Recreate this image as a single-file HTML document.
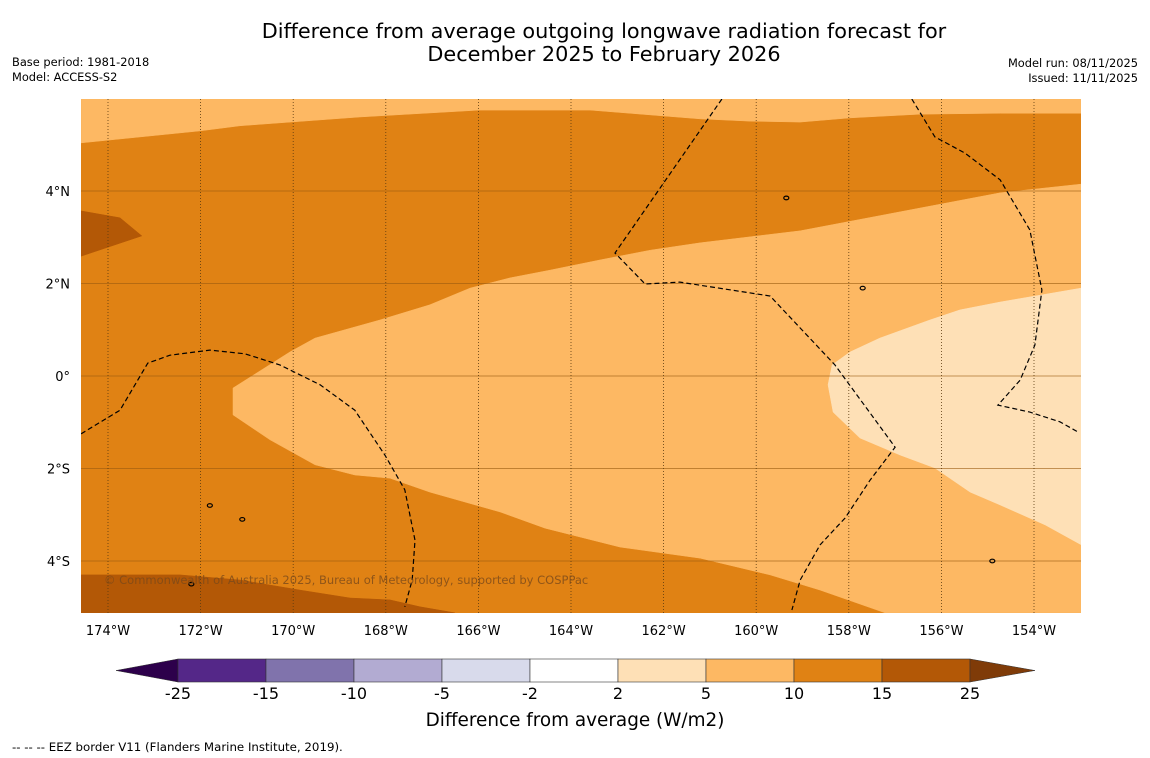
<!DOCTYPE html>
<html><head><meta charset="utf-8">
<style>
body{margin:0;background:#fff;width:1150px;height:758px;overflow:hidden;font-family:"Liberation Sans","DejaVu Sans",sans-serif;}
svg{display:block}
</style></head>
<body>
<svg id="chart" width="1150" height="758" xmlns="http://www.w3.org/2000/svg">
<text x="604" y="38" text-anchor="middle" font-size="20.8" font-family="DejaVu Sans, sans-serif" fill="#000">Difference from average outgoing longwave radiation forecast for</text>
<text x="604" y="61" text-anchor="middle" font-size="20.8" font-family="DejaVu Sans, sans-serif" fill="#000">December 2025 to February 2026</text>
<text x="12" y="66" font-size="11.4" font-family="DejaVu Sans, sans-serif">Base period: 1981-2018</text>
<text x="12" y="81" font-size="11.4" font-family="DejaVu Sans, sans-serif">Model: ACCESS-S2</text>
<text x="1138" y="67" text-anchor="end" font-size="11.4" font-family="DejaVu Sans, sans-serif">Model run: 08/11/2025</text>
<text x="1138" y="82" text-anchor="end" font-size="11.4" font-family="DejaVu Sans, sans-serif">Issued: 11/11/2025</text>
<defs><clipPath id="mapclip"><rect x="81" y="99" width="1000" height="514"/></clipPath></defs>
<g id="map" clip-path="url(#mapclip)"></g>
<g id="axes"></g>
<text x="104" y="584" font-size="11.5" font-family="DejaVu Sans, sans-serif" fill="#7a4a1a" fill-opacity="0.8">© Commonwealth of Australia 2025, Bureau of Meteorology, supported by COSPPac</text>
<g id="cbar"></g>
<text x="575" y="726" text-anchor="middle" font-size="18.4" font-family="DejaVu Sans, sans-serif">Difference from average (W/m2)</text>
<text x="12" y="751" font-size="11.8" font-family="DejaVu Sans, sans-serif">--  --  -- EEZ border V11 (Flanders Marine Institute, 2019).</text>
</svg>
<script>
// Contour polygons [lon, lat]
const topBand=[[-174.58,5.99],[-174.58,5.04],[-172.01,5.30],[-171.15,5.41],[-168.56,5.60],[-165.97,5.75],[-163.59,5.75],[-161.21,5.56],[-160.13,5.51],[-159.05,5.49],[-157.97,5.58],[-156.46,5.66],[-154.73,5.68],[-152.98,5.68],[-152.98,5.99]];
const darkWedge=[[-174.58,3.57],[-173.74,3.42],[-173.27,3.03],[-174.58,2.59]];
const darkBottom=[[-174.58,-4.30],[-172.44,-4.30],[-171.15,-4.41],[-169.85,-4.63],[-168.77,-4.80],[-167.91,-4.84],[-167.26,-4.99],[-166.51,-5.12],[-174.58,-5.12]];
const lightCentral=[[-152.98,4.15],[-154.73,3.96],[-156.89,3.55],[-159.05,3.14],[-161.21,2.88],[-162.29,2.72],[-163.37,2.51],[-164.45,2.29],[-165.32,2.12],[-166.18,1.90],[-167.05,1.54],[-168.13,1.21],[-169.53,0.82],[-170.07,0.52],[-171.30,-0.26],[-171.30,-0.84],[-170.50,-1.38],[-169.53,-1.92],[-168.67,-2.14],[-167.91,-2.21],[-167.05,-2.51],[-165.53,-2.94],[-164.56,-3.29],[-162.94,-3.70],[-161.21,-3.94],[-159.70,-4.30],[-158.62,-4.63],[-157.22,-5.12],[-152.98,-5.12]];
const paleEast=[[-152.98,1.90],[-154.73,1.60],[-155.60,1.43],[-156.25,1.21],[-157.33,0.82],[-157.97,0.52],[-158.36,0.24],[-158.45,-0.19],[-158.34,-0.78],[-157.76,-1.34],[-156.89,-1.71],[-156.14,-1.99],[-155.38,-2.51],[-154.73,-2.79],[-153.76,-3.22],[-152.98,-3.65]];
const eezA=[[-174.58,-1.25],[-173.74,-0.74],[-173.14,0.28],[-172.66,0.45],[-171.80,0.56],[-171.04,0.48],[-170.29,0.24],[-169.42,-0.19],[-168.67,-0.74],[-168.02,-1.71],[-167.59,-2.46],[-167.37,-3.55],[-167.43,-4.41],[-167.59,-4.99]];
const eezB=[[-160.74,5.99],[-163.05,2.66],[-162.40,1.99],[-161.65,2.03],[-159.70,1.73],[-158.30,0.24],[-157.00,-1.54],[-157.54,-2.25],[-158.08,-3.07],[-158.62,-3.65],[-159.05,-4.41],[-159.23,-5.06]];
const eezC=[[-156.64,5.99],[-156.14,5.17],[-155.49,4.82],[-154.73,4.24],[-154.09,3.16],[-153.83,1.86],[-153.98,0.67],[-154.30,-0.09],[-154.78,-0.63],[-154.09,-0.78],[-153.44,-0.99],[-153.05,-1.21]];
const islands=[[-159.35,3.85],[-157.7,1.9],[-171.8,-2.8],[-154.9,-4.0],[-171.1,-3.1],[-172.2,-4.5]];
const lonTicks=[-174,-172,-170,-168,-166,-164,-162,-160,-158,-156,-154];
const latTicks=[4,2,0,-2,-4];
const cbLevels=["-25","-15","-10","-5","-2","2","5","10","15","25"];
const cbColors=["#542788","#8073ac","#b2abd2","#d8daeb","#ffffff","#fee0b6","#fdb863","#e08214","#b35806"];

const NS="http://www.w3.org/2000/svg";
const X=lon=>108+(lon+174)*46.3;
const Y=lat=>376-lat*46.25;
function mk(tag,attrs,parent){const e=document.createElementNS(NS,tag);for(const k in attrs)e.setAttribute(k,attrs[k]);parent.appendChild(e);return e;}
const pts=a=>a.map(p=>X(p[0]).toFixed(1)+","+Y(p[1]).toFixed(1)).join(" ");
const map=document.getElementById('map');
let r=mk('rect',{x:81,y:99,width:1000,height:514,fill:'#e08214'},map);


const polys=[[topBand,'#fdb863','top-light-band'],[darkWedge,'#b35806','dark-wedge'],[darkBottom,'#b35806','dark-bottom-band'],[lightCentral,'#fdb863','central-light-region'],[paleEast,'#fee0b6','east-pale-region']];
for(const [d,c,n] of polys){
 const p=mk('polygon',{points:pts(d),fill:c,stroke:c,'stroke-width':0.5},map);
 
 
}
for(const t of latTicks){
 const l=mk('line',{x1:81,x2:1081,y1:Y(t),y2:Y(t),stroke:'#9a5a10','stroke-width':0.8,'stroke-opacity':0.8},map);
 
 
}
for(const t of lonTicks){
 const l=mk('line',{x1:X(t),x2:X(t),y1:99,y2:613,stroke:'#5a3a10','stroke-width':0.8,'stroke-dasharray':'1,2'},map);
 
 
}
for(const [d,n] of [[eezA,'eez-border-west'],[eezB,'eez-border-central'],[eezC,'eez-border-east']]){
 const l=mk('polyline',{points:pts(d),fill:'none',stroke:'#000','stroke-width':1.2,'stroke-dasharray':'5,3'},map);
 
 
}
for(const d of islands){
 const e=mk('ellipse',{cx:X(d[0]),cy:Y(d[1]),rx:2.5,ry:1.8,fill:'none',stroke:'#000','stroke-width':1.2},map);
 
 
}
const axes=document.getElementById('axes');
for(const t of lonTicks){
 const tx=mk('text',{x:X(t),y:635,'text-anchor':'middle','font-size':13,'font-family':'DejaVu Sans, sans-serif'},axes);
 tx.textContent=Math.abs(t)+'°W';
 
 
}
for(const t of latTicks){
 const tx=mk('text',{x:70,y:Y(t)+5,'text-anchor':'end','font-size':13,'font-family':'DejaVu Sans, sans-serif'},axes);
 tx.textContent=t===0?'0°':Math.abs(t)+'°'+(t>0?'N':'S');
 
 
}
const cb=document.getElementById('cbar');
const cx0=178,cw=88,cy=659,ch=23;
let a1=mk('polygon',{points:`${cx0},${cy} ${cx0},${cy+ch} 116,${cy+ch/2}`,fill:'#2d004b',stroke:'#333','stroke-width':0.5},cb);


cbColors.forEach((c,i)=>{
 const s=mk('rect',{x:cx0+i*cw,y:cy,width:cw,height:ch,fill:c,stroke:'#333','stroke-width':0.6},cb);
 
 
});
const xe=cx0+cbColors.length*cw;
let a2=mk('polygon',{points:`${xe},${cy} ${xe},${cy+ch} 1035,${cy+ch/2}`,fill:'#7f3b08',stroke:'#333','stroke-width':0.5},cb);


cbLevels.forEach((l,i)=>{
 const t=mk('text',{x:cx0+i*cw,y:699,'text-anchor':'middle','font-size':16,'font-family':'DejaVu Sans, sans-serif'},cb);
 t.textContent=l;
 
 
});
</script>
</body></html>
